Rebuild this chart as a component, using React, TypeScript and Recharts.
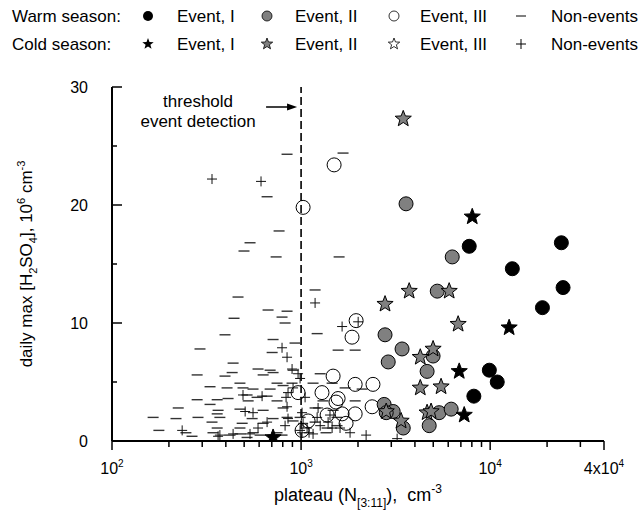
import React from 'react';
import { ScatterChart, Scatter, XAxis, YAxis, ReferenceLine, Label } from 'recharts';

type Pt = [number, number];

// warm season (circles / dashes)
const warmEventI: Pt[] = [
  [7750, 16.5], [23800, 16.8], [13100, 14.6], [24300, 13.0], [18900, 11.3],
  [9900, 6.0], [10900, 5.0], [8200, 3.8]
];

const warmEventII: Pt[] = [
  [3590, 20.1], [6300, 15.6], [5250, 12.7], [2780, 9.0], [3420, 7.8], [2890, 6.7],
  [4990, 7.2], [4640, 5.9], [2750, 3.1], [3070, 2.5], [2820, 2.4], [5370, 2.4],
  [6220, 2.7], [3470, 1.1], [4760, 1.3]
];

const warmEventIII: Pt[] = [
  [1495, 23.4], [1025, 19.8], [1955, 10.2], [1860, 8.8], [1477, 5.5], [1932, 4.8],
  [2400, 4.8], [1290, 4.1], [964, 4.1], [1570, 3.6], [1530, 3.3], [2375, 2.9],
  [1932, 2.3], [1648, 2.3], [1373, 2.2], [1730, 1.5], [1089, 1.7], [1012, 0.9]
];

const warmNonEvents: Pt[] = [
  [843, 24.3], [1667, 24.4], [661, 20.7], [765, 17.8], [537, 16.8], [499, 16.1],
  [738, 15.6], [1589, 15.6], [1186, 12.8], [464, 12.2], [669, 11.1], [843, 11.0],
  [442, 10.4], [793, 10.5], [823, 10.0], [1216, 9.1], [396, 9.0], [711, 8.6],
  [929, 8.3], [292, 7.8], [1570, 7.7], [1932, 7.7], [703, 7.5], [437, 6.6],
  [592, 6.1], [686, 6.0], [432, 5.8], [907, 6.0], [282, 5.6], [396, 5.5],
  [630, 5.6], [1157, 4.9], [1459, 4.9], [746, 4.9], [896, 4.9], [803, 4.7],
  [330, 4.6], [406, 4.5], [493, 4.5], [557, 4.4], [686, 4.4], [1710, 4.5],
  [2104, 4.4], [661, 3.8], [518, 3.9], [411, 3.6], [360, 3.5], [282, 3.5],
  [525, 3.4], [746, 3.4], [1306, 3.4], [1932, 3.4], [330, 3.1], [224, 2.8],
  [1186, 2.8], [364, 2.6], [475, 2.7], [630, 2.6], [803, 2.8], [1477, 2.6],
  [165, 2.0], [218, 1.9], [285, 2.0], [372, 2.0], [551, 1.9], [711, 1.9],
  [843, 2.0], [988, 2.0], [1549, 2.0], [360, 2.3], [338, 1.6], [488, 1.5],
  [630, 1.5], [907, 1.7], [1186, 1.6], [360, 1.1], [1549, 1.3], [1373, 1.1],
  [177, 0.9], [475, 1.1], [246, 0.7], [342, 0.7], [475, 0.6], [557, 0.7],
  [746, 0.7], [265, 0.4], [421, 0.5], [518, 0.3], [607, 0.5], [793, 0.5],
  [1355, 0.7], [711, 5.8], [585, 3.7], [1262, 5.7], [475, 4.9]
];

// cold season (stars / pluses)
const coldEventI: Pt[] = [
  [8040, 19.0], [12600, 9.6], [6860, 5.9], [7290, 2.2], [711, 0.3]
];

const coldEventII: Pt[] = [
  [3470, 27.3], [3730, 12.7], [6070, 12.7], [2780, 11.6], [6770, 9.9], [4990, 7.8],
  [4270, 7.1], [4270, 4.5], [5500, 4.6], [4640, 2.4], [4870, 2.5], [2820, 2.5],
  [3380, 1.7]
];

const coldEventIII: Pt[] = [];

const coldNonEvents: Pt[] = [
  [338, 22.2], [614, 22.0], [1186, 11.7], [1648, 9.7], [2004, 10.1], [793, 7.9],
  [843, 7.1], [896, 6.1], [964, 5.7], [988, 5.3], [907, 4.5], [493, 3.9],
  [622, 3.8], [833, 3.7], [853, 4.1], [1050, 3.7], [843, 2.9], [506, 2.5],
  [557, 2.4], [1012, 2.4], [1230, 2.8], [1216, 2.0], [1422, 2.2], [1390, 1.6],
  [853, 1.9], [661, 1.6], [592, 1.1], [823, 1.3], [1025, 1.5], [1076, 1.1],
  [1262, 1.3], [1459, 1.1], [1607, 1.1], [1012, 0.7], [1157, 0.6], [1816, 0.7],
  [2208, 0.5], [3221, 0.2], [235, 0.9], [364, 0.4], [437, 0.6], [537, 0.6],
  [372, 0.5], [1102, 0.7], [988, 0.9]
];

const xTicks = [
  100, 200, 300, 400, 500, 600, 700, 800, 900,
  1000, 2000, 3000, 4000, 5000, 6000, 7000, 8000, 9000,
  10000, 20000, 30000, 40000
];
const xMajor = [100, 1000, 10000, 40000];
const xTickLabels: Record<number, [string, string]> = {
  100: ['10', '2'], 1000: ['10', '3'], 10000: ['10', '4'], 40000: ['4x10', '4']
};
const yTicks = [0, 5, 10, 15, 20, 25, 30];
const yMajor = [0, 10, 20, 30];

const legendNames = ['Event, I', 'Event, II', 'Event, III', 'Non-events'];

const FONT = '"Liberation Sans", Arial, Helvetica, sans-serif';
const GRAY = '#808080';

const toPoints = (arr: Pt[]) => arr.map(([x, y]) => ({ x, y }));

const starPath = (cx: number, cy: number, R: number, r: number) => {
  let d = '';
  for (let i = 0; i < 10; i++) {
    const a = -Math.PI / 2 + (i * Math.PI) / 5;
    const rad = i % 2 === 0 ? R : r;
    d += `${i === 0 ? 'M' : 'L'}${cx + rad * Math.cos(a)},${cy + rad * Math.sin(a)}`;
  }
  return d + 'Z';
};

const renderDash = ({ cx, cy }: any) => (
  <line x1={cx - 5.5} x2={cx + 5.5} y1={cy} y2={cy} stroke="#333" strokeWidth={1.4} />
);
const renderPlus = ({ cx, cy }: any) => (
  <g stroke="#111" strokeWidth={1}>
    <line x1={cx - 5} x2={cx + 5} y1={cy} y2={cy} />
    <line x1={cx} x2={cx} y1={cy - 5} y2={cy + 5} />
  </g>
);
const makeDot = (fill: string) => ({ cx, cy }: any) => (
  <circle cx={cx} cy={cy} r={7} fill={fill} stroke="#000" strokeWidth={1} />
);
const makeStar = (fill: string) => ({ cx, cy }: any) => (
  <path d={starPath(cx, cy, 8.5, 3.6)} fill={fill} stroke="#000" strokeWidth={1} />
);

const XTick = ({ x, y, payload }: any) => {
  const v = payload.value;
  const lab = xTickLabels[v];
  return (
    <g>
      <line x1={x} x2={x} y1={y} y2={y + (xMajor.includes(v) ? 9 : 6)} stroke="#000" strokeWidth={1.5} />
      {lab && (
        <text x={x} y={y + 33} textAnchor="middle" fontSize={16} fontFamily={FONT} fill="#000">
          {lab[0]}
          <tspan dy={-7} fontSize={10}>{lab[1]}</tspan>
        </text>
      )}
    </g>
  );
};

const YTick = ({ x, y, payload }: any) => {
  const v = payload.value;
  const major = yMajor.includes(v);
  return (
    <g>
      <line x1={x} x2={x + (major ? 10 : 5)} y1={y} y2={y} stroke="#000" strokeWidth={1.5} />
      {major && (
        <text x={x - 24} y={y + 6} textAnchor="end" fontSize={16} fontFamily={FONT} fill="#000">
          {v}
        </text>
      )}
    </g>
  );
};

const XTitle = ({ viewBox }: any) => {
  const cx = viewBox.x + viewBox.width / 2;
  return (
    <text x={cx} y={viewBox.y + 60} textAnchor="middle" fontSize={18} fontFamily={FONT} fill="#000">
      plateau (N
      <tspan dy={6} fontSize={12}>[3:11]</tspan>
      <tspan dy={-6}>),{'\u00a0\u00a0'}cm</tspan>
      <tspan dy={-8} fontSize={12}>-3</tspan>
    </text>
  );
};

const YTitle = ({ viewBox }: any) => {
  const cx = 32;
  const cy = viewBox.y + viewBox.height / 2;
  return (
    <text x={cx} y={cy} transform={`rotate(-90, ${cx}, ${cy})`} textAnchor="middle" fontSize={17} fontFamily={FONT} fill="#000">
      daily max [H
      <tspan dy={5} fontSize={11}>2</tspan>
      <tspan dy={-5}>SO</tspan>
      <tspan dy={5} fontSize={11}>4</tspan>
      <tspan dy={-5}>], 10</tspan>
      <tspan dy={-7} fontSize={11}>6</tspan>
      <tspan dy={7}> cm</tspan>
      <tspan dy={-7} fontSize={11}>-3</tspan>
    </text>
  );
};

const ThresholdNote = ({ viewBox }: any) => {
  const x = viewBox.x;
  const top = viewBox.y;
  return (
    <g fontFamily={FONT} fontSize={17} fill="#000">
      <text x={x - 103} y={top + 20} textAnchor="middle">threshold</text>
      <text x={x - 103} y={top + 40} textAnchor="middle">event detection</text>
      <line x1={x - 35} x2={x - 12} y1={top + 20} y2={top + 20} stroke="#000" strokeWidth={1.5} />
      <path d={`M${x - 4},${top + 20} L${x - 14},${top + 16.5} L${x - 14},${top + 23.5} Z`} fill="#000" />
    </g>
  );
};

const LegendMark = ({ kind, cx, cy }: { kind: string; cx: number; cy: number }) => {
  switch (kind) {
    case 'dotBlack':
      return <circle cx={cx} cy={cy} r={5} fill="#000" />;
    case 'dotGray':
      return <circle cx={cx} cy={cy} r={5} fill={GRAY} stroke="#000" strokeWidth={0.8} />;
    case 'dotOpen':
      return <circle cx={cx} cy={cy} r={5} fill="none" stroke="#000" strokeWidth={0.8} />;
    case 'dash':
      return <line x1={cx - 5} x2={cx + 5} y1={cy} y2={cy} stroke="#000" strokeWidth={1} />;
    case 'starBlack':
      return <path d={starPath(cx, cy, 6, 2.5)} fill="#000" />;
    case 'starGray':
      return <path d={starPath(cx, cy, 6, 2.5)} fill={GRAY} stroke="#000" strokeWidth={0.8} />;
    case 'starOpen':
      return <path d={starPath(cx, cy, 6, 2.5)} fill="none" stroke="#000" strokeWidth={0.8} />;
    default:
      return (
        <g stroke="#000" strokeWidth={1}>
          <line x1={cx - 5} x2={cx + 5} y1={cy} y2={cy} />
          <line x1={cx} x2={cx} y1={cy - 5} y2={cy + 5} />
        </g>
      );
  }
};

const legendRows = [
  { label: 'Warm season:', y: 16, marks: ['dotBlack', 'dotGray', 'dotOpen', 'dash'] },
  { label: 'Cold season:', y: 44, marks: ['starBlack', 'starGray', 'starOpen', 'plus'] }
];
const markX = [148, 267, 394, 521];
const nameX = [177, 295, 420, 551];

const App: React.FC = () => {
  return (
    <div style={{ position: 'absolute', left: 0, top: 0, width: 640, height: 515, background: '#fff' }}>
      <svg width={640} height={60} style={{ position: 'absolute', left: 0, top: 0 }}>
        {legendRows.map((row) => (
          <g key={row.label} fontFamily={FONT} fontSize={17} fill="#000">
            <text x={12} y={row.y + 6}>{row.label}</text>
            {row.marks.map((m, i) => (
              <g key={m}>
                <LegendMark kind={m} cx={markX[i]} cy={row.y} />
                <text x={nameX[i]} y={row.y + 6}>{legendNames[i]}</text>
              </g>
            ))}
          </g>
        ))}
      </svg>
      <ScatterChart width={640} height={515} margin={{ top: 87, right: 36, bottom: 0, left: 0 }}>
        <XAxis
          dataKey="x"
          type="number"
          scale="log"
          domain={[100, 40000]}
          allowDataOverflow
          ticks={xTicks}
          interval={0}
          tick={<XTick />}
          tickLine={false}
          tickSize={0}
          tickMargin={0}
          height={74}
          axisLine={{ stroke: '#000', strokeWidth: 2 }}
        >
          <Label content={<XTitle />} />
        </XAxis>
        <YAxis
          dataKey="y"
          type="number"
          domain={[0, 30]}
          allowDataOverflow
          ticks={yTicks}
          interval={0}
          tick={<YTick />}
          tickLine={false}
          tickSize={0}
          tickMargin={0}
          width={112}
          axisLine={{ stroke: '#000', strokeWidth: 2 }}
        >
          <Label content={<YTitle />} />
        </YAxis>
        <ReferenceLine
          x={1000}
          stroke="#000"
          strokeWidth={1.6}
          strokeDasharray="8 4"
          label={<ThresholdNote />}
        />
        <Scatter data={toPoints(warmNonEvents)} shape={renderDash} isAnimationActive={false} />
        <Scatter data={toPoints(coldNonEvents)} shape={renderPlus} isAnimationActive={false} />
        <Scatter data={toPoints(warmEventIII)} shape={makeDot('none')} isAnimationActive={false} />
        <Scatter data={toPoints(coldEventIII)} shape={makeStar('none')} isAnimationActive={false} />
        <Scatter data={toPoints(warmEventII)} shape={makeDot(GRAY)} isAnimationActive={false} />
        <Scatter data={toPoints(coldEventII)} shape={makeStar(GRAY)} isAnimationActive={false} />
        <Scatter data={toPoints(warmEventI)} shape={makeDot('#000')} isAnimationActive={false} />
        <Scatter data={toPoints(coldEventI)} shape={makeStar('#000')} isAnimationActive={false} />
      </ScatterChart>
    </div>
  );
};

export default App;
